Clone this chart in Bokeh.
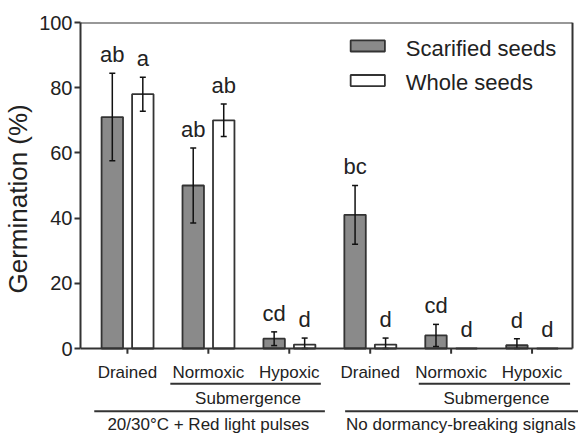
from bokeh.plotting import figure
from bokeh.models import ColumnDataSource, Range1d, FixedTicker, Title
from bokeh.core.properties import value
from bokeh.embed import file_html
from bokeh.resources import INLINE

# ---- data ----
categories = ["Drained", "Normoxic", "Hypoxic", "Drained", "Normoxic", "Hypoxic"]
scarified = [71, 50, 3, 41, 4, 1]
scarified_err = [13.4, 11.5, 2.1, 9, 3.4, 2]
whole = [78, 70, 1.2, 1.2, 0, 0]
whole_err = [5.2, 5, 2, 2, 0, 0]
scarified_letters = ["ab", "ab", "cd", "bc", "cd", "d"]
whole_letters = ["a", "ab", "d", "d", "d", "d"]
groups = ["20/30\u00b0C + Red light pulses", "No dormancy-breaking signals"]
subgroup = "Submergence"
y_ticks = [0, 20, 40, 60, 80, 100]
series_names = ["Scarified seeds", "Whole seeds"]
y_title = "Germination (%)"

FONT = value("Liberation Sans")
TXT = "#222222"
LINE = "#333333"
GRAY = "#8a8a8a"
PX = 412 / 126.38  # pixels per data unit (vertical)


def lift(fs):
    # compensate the renderer's baseline placement (~0.25 em)
    return 0.25 * fs / PX


p = figure(frame_width=498, frame_height=412, output_backend="svg", toolbar_location=None,
           x_axis_location=None, y_axis_location="left",
           x_range=Range1d(-0.58, 5.574), y_range=Range1d(-26.38, 100),
           min_border_left=78, min_border_right=0, min_border_top=22,
           min_border_bottom=0)
p.title.visible = False
p.outline_line_color = None
p.xgrid.visible = False
p.ygrid.visible = False

ya = p.yaxis[0]
ya.bounds = (0, 100)
ya.ticker = FixedTicker(ticks=y_ticks)
ya.minor_tick_line_color = None
ya.major_tick_in = 0
ya.major_tick_out = 6
ya.axis_line_width = 2
ya.axis_line_color = LINE
ya.major_tick_line_width = 2
ya.major_tick_line_color = LINE
ya.major_label_text_font_size = "20px"
ya.major_label_text_font = "Liberation Sans"
ya.major_label_text_color = TXT
ya.major_label_standoff = 2

# y-axis title, placed so that it is centred on the 0-100 span
p.add_layout(Title(text=y_title, align="left", offset=141, vertical_align="top",
                   standoff=4, text_font="Liberation Sans", text_font_size="26px",
                   text_font_style="normal", text_color=TXT), "left")

n = len(categories)
xs = list(range(n))
off_s, off_w, bw = -0.187, 0.19, 0.265
xs_s = [x + off_s for x in xs]
xs_w = [x + off_w for x in xs]

src_s = ColumnDataSource(dict(x=xs_s, top=scarified))
src_w = ColumnDataSource(dict(x=xs_w, top=whole))
p.vbar(x="x", top="top", bottom=0, width=bw, source=src_s, fill_color=GRAY,
       line_color=LINE, line_width=1.8)
p.vbar(x="x", top="top", bottom=0, width=bw, source=src_w, fill_color="white",
       line_color=LINE, line_width=1.8)

# error bars
ex, e0, e1, cx0, cx1, cy = [], [], [], [], [], []
for xv, m, e in list(zip(xs_s, scarified, scarified_err)) + list(zip(xs_w, whole, whole_err)):
    if e > 0:
        ex.append(xv); e0.append(max(m - e, 0)); e1.append(m + e)
        for yy in (max(m - e, 0), m + e):
            cx0.append(xv - 0.037); cx1.append(xv + 0.037); cy.append(yy)
p.segment(x0=ex, y0=e0, x1=ex, y1=e1, line_color="#111111", line_width=1.5)
p.segment(x0=cx0, y0=cy, x1=cx1, y1=cy, line_color="#111111", line_width=1.5)

# frame lines
p.segment(x0=[-0.58, -0.58, 5.5], y0=[0, 100, 0], x1=[5.5, 5.5, 5.5], y1=[0, 100, 100],
          line_color=LINE, line_width=2)
# x ticks
p.segment(x0=xs, y0=[0] * n, x1=xs, y1=[-1.6] * n, line_color=LINE, line_width=2)

# significance letters
gap = 4 + lift(22)
p.text(x=xs_s, y=[m + e + gap for m, e in zip(scarified, scarified_err)],
       text=scarified_letters, text_font=FONT, text_font_size="22px",
       text_align="center", text_baseline="alphabetic", text_color=TXT)
p.text(x=xs_w, y=[m + e + gap for m, e in zip(whole, whole_err)],
       text=whole_letters, text_font=FONT, text_font_size="22px",
       text_align="center", text_baseline="alphabetic", text_color=TXT)

# category labels
l17 = lift(17)
p.text(x=xs, y=[-8.6 + l17] * n, text=categories, text_font=FONT, text_font_size="17px",
       text_align="center", text_baseline="alphabetic", text_color=TXT)
# submergence brackets
p.segment(x0=[0.53, 3.60], y0=[-10.83, -10.83], x1=[2.39, 5.47], y1=[-10.83, -10.83],
          line_color=LINE, line_width=2)
p.text(x=[1.49, 4.56], y=[-16.78 + l17] * 2, text=[subgroup, subgroup], text_font=FONT,
       text_font_size="17px", text_align="center", text_baseline="alphabetic", text_color=TXT)
# group brackets
p.segment(x0=[-0.41, 2.69], y0=[-19.23, -19.23], x1=[2.44, 5.574], y1=[-19.23, -19.23],
          line_color=LINE, line_width=2)
p.text(x=[1.0, 4.12], y=[-24.7 + l17] * 2, text=groups, text_font=FONT,
       text_font_size="17px", text_align="center", text_baseline="alphabetic", text_color=TXT)

# legend
l22 = lift(22)
p.rect(x=[2.97, 2.97], y=[92.8, 82.2], width=0.423, height=3.4,
       fill_color=[GRAY, "white"], line_color=LINE, line_width=1.8)
p.text(x=[3.44, 3.44], y=[90.4 + l22, 80.0 + l22], text=series_names, text_font=FONT,
       text_font_size="22px", text_align="left", text_baseline="alphabetic", text_color=TXT)

open("out.html", "w").write(file_html(p, INLINE))
